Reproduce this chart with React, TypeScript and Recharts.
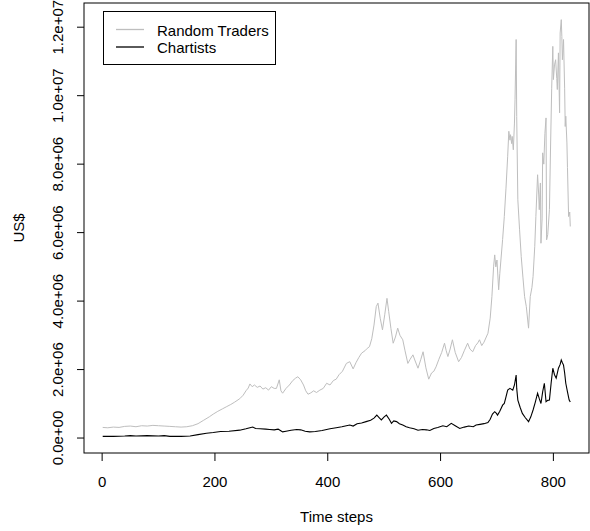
import { LineChart, Line, XAxis, YAxis } from 'recharts';

// values, in millions of US$
const traderSteps = [
  1, 10, 20, 30, 40, 50, 60, 70, 80, 90, 100, 110, 120, 130, 140, 150, 160, 170, 180, 190,
  197, 205, 213, 221, 228, 235, 244, 250, 255, 259, 262, 266, 270, 275, 280, 285, 290, 295, 300, 305,
  309, 314, 317, 320, 326, 332, 338, 343, 347, 352, 357, 361, 365, 370, 375, 380, 386, 392, 398, 404,
  410, 415, 420, 426, 433, 439, 445, 450, 455, 460, 466, 470, 474, 478, 482, 486, 489, 493, 497, 501,
  505, 508, 512, 516, 520, 524, 528, 533, 537, 542, 546, 551, 555, 560, 565, 569, 574, 579, 584, 588,
  592, 597, 602, 607, 610, 613, 617, 621, 626, 632, 637, 642, 648, 652, 657, 662, 666, 669, 673, 677,
  681, 684, 688, 691, 694, 696, 698, 700, 703, 705, 707, 710, 713, 716, 719, 721, 723, 724, 726, 727,
  729, 731, 732, 734, 735, 737, 740, 743, 746, 749, 752, 756, 759, 762, 764, 767, 769, 772, 774, 775,
  777, 778, 780, 781, 783, 785, 787, 788, 790, 793, 795, 797, 799, 800, 802, 804, 806, 807, 809, 811,
  812, 814, 815, 816, 818, 820, 821, 822, 824, 825, 827, 829, 830,
];
const traderValues = [
  0.31, 0.30, 0.32, 0.31, 0.34, 0.35, 0.33, 0.36, 0.35, 0.37, 0.36, 0.35, 0.34, 0.33, 0.32, 0.33, 0.36, 0.42, 0.52, 0.62,
  0.70, 0.78, 0.85, 0.92, 0.98, 1.05, 1.15, 1.25, 1.38, 1.46, 1.58, 1.50, 1.55, 1.48, 1.52, 1.43, 1.47, 1.40, 1.50, 1.45,
  1.45, 1.70, 1.38, 1.31, 1.45, 1.55, 1.68, 1.75, 1.79, 1.70, 1.55, 1.38, 1.28, 1.32, 1.38, 1.33, 1.40, 1.45, 1.60, 1.55,
  1.68, 1.72, 1.85, 1.95, 2.18, 2.23, 2.02, 2.20, 2.35, 2.48, 2.55, 2.62, 2.67, 2.90, 3.30, 3.84, 3.94, 3.50, 3.16, 3.60,
  4.08, 3.70, 3.20, 2.77, 2.95, 3.21, 3.00, 2.87, 2.55, 2.18, 2.30, 2.43, 2.25, 2.04, 2.30, 2.52, 2.05, 1.72, 1.90, 1.95,
  2.08, 2.30, 2.50, 2.77, 2.55, 2.38, 2.60, 2.87, 2.50, 2.23, 2.35, 2.55, 2.77, 2.60, 2.52, 2.70, 2.78, 2.87, 2.70, 2.80,
  2.95, 3.06, 3.50, 4.13, 5.00, 5.35, 5.00, 5.20, 4.33, 4.80, 5.20, 5.80, 6.47, 7.30, 8.23, 8.96, 8.70, 8.86, 8.60, 8.81,
  8.42, 9.20, 9.88, 11.64, 9.39, 6.96, 6.10, 5.30, 4.70, 4.13, 3.84, 3.21, 4.13, 4.40, 4.72, 5.60, 6.47, 7.69, 7.10, 6.67,
  7.45, 5.69, 6.40, 8.33, 8.00, 8.90, 9.35, 5.79, 5.94, 6.67, 8.50, 10.20, 11.44, 10.47, 10.90, 11.05, 10.50, 10.18, 11.25, 9.50,
  11.83, 12.22, 11.73, 11.05, 11.64, 10.20, 9.10, 9.40, 8.62, 7.90, 6.47, 6.60, 6.18,
];

const chartistSteps = [
  1, 20, 40, 50, 60, 80, 100, 110, 120, 140, 156, 170, 185, 197, 210, 225, 244, 255, 262, 267,
  272, 280, 290, 297, 305, 312, 316, 320, 326, 335, 345, 352, 360, 368, 378, 390, 404, 415, 425, 433,
  439, 445, 452, 460, 468, 476, 482, 487, 491, 495, 500, 504, 509, 513, 517, 522, 527, 533, 539, 545,
  553, 560, 568, 575, 581, 588, 595, 604, 611, 619, 626, 634, 642, 650, 658, 663, 670, 677, 684, 688,
  692, 696, 699, 701, 705, 710, 713, 716, 719, 723, 728, 731, 734, 735, 737, 741, 745, 750, 756, 760,
  764, 768, 772, 775, 778, 781, 784, 787, 790, 793, 796, 799, 802, 805, 809, 812, 814, 816, 818, 820,
  822, 825, 828, 830,
];
const chartistValues = [
  0.05, 0.05, 0.06, 0.07, 0.06, 0.07, 0.06, 0.07, 0.05, 0.05, 0.06, 0.10, 0.14, 0.16, 0.19, 0.20, 0.23, 0.27, 0.30, 0.32,
  0.28, 0.27, 0.26, 0.25, 0.24, 0.26, 0.22, 0.18, 0.20, 0.23, 0.25, 0.24, 0.20, 0.18, 0.19, 0.22, 0.27, 0.30, 0.33, 0.36,
  0.38, 0.35, 0.42, 0.44, 0.48, 0.52, 0.58, 0.67, 0.60, 0.53, 0.62, 0.67, 0.55, 0.43, 0.50, 0.48, 0.42, 0.38, 0.33, 0.30,
  0.27, 0.23, 0.25, 0.24, 0.22, 0.28, 0.31, 0.36, 0.33, 0.43, 0.36, 0.28, 0.32, 0.35, 0.33, 0.38, 0.40, 0.42, 0.45, 0.55,
  0.70, 0.77, 0.72, 0.67, 0.78, 0.96, 1.01, 1.20, 1.40, 1.45, 1.40, 1.55, 1.84, 1.45, 1.11, 0.90, 0.72, 0.60, 0.48, 0.62,
  0.82, 1.05, 1.31, 1.15, 1.01, 1.35, 1.60, 1.06, 1.10, 1.11, 1.60, 2.04, 1.85, 1.75, 2.04, 2.15, 2.28, 2.20, 2.13, 1.90,
  1.60, 1.35, 1.11, 1.05,
];

const xTicks = [0, 200, 400, 600, 800];
const yTicks = [0, 2, 4, 6, 8, 10, 12];
const seriesNames = ['Random Traders', 'Chartists'];
const seriesColors = ['#bebebe', '#000000'];

const traderData = traderSteps.map((t, i) => ({ t, v: traderValues[i] }));
const chartistData = chartistSteps.map((t, i) => ({ t, v: chartistValues[i] }));

// R style 4% padding around the data range
const allSteps = [...traderSteps, ...chartistSteps];
const allValues = [...traderValues, ...chartistValues];
const xMin = Math.min(...allSteps), xMax = Math.max(...allSteps);
const yMin = Math.min(...allValues), yMax = Math.max(...allValues);
const xPad = (xMax - xMin) * 0.04;
const yPad = (yMax - yMin) * 0.04;
const xDomain = [xMin - xPad, xMax + xPad];
const yDomain = [yMin - yPad, yMax + yPad];

const W = 590, H = 531;
const plot = { left: 84, top: 3, right: 589, bottom: 453 };
const font = '"Liberation Sans", Arial, sans-serif';

function sci(m: number) {
  const v = m * 1e6;
  if (v === 0) return '0.0e+00';
  const e = Math.floor(Math.log10(v));
  const mant = (v / Math.pow(10, e)).toFixed(1);
  return `${mant}e+${String(e).padStart(2, '0')}`;
}

const YTick = (props: any) => {
  const { y, payload } = props;
  return (
    <text x={63.5} y={y} transform={`rotate(-90, 63.5, ${y})`} textAnchor="middle"
      fontSize={15} fontFamily={font} fill="#000">
      {sci(payload.value)}
    </text>
  );
};

const XTick = (props: any) => {
  const { x, payload } = props;
  return (
    <text x={x} y={487} textAnchor="middle" fontSize={15} fontFamily={font} fill="#000">
      {payload.value}
    </text>
  );
};

export default function App() {
  return (
    <div style={{ position: 'absolute', left: 0, top: 0, width: W, height: H, background: '#fff' }}>
      <LineChart width={W} height={H}
        margin={{ top: plot.top, right: W - plot.right, bottom: 0, left: 0 }}>
        <XAxis dataKey="t" type="number" domain={xDomain} ticks={xTicks} allowDataOverflow
          height={H - plot.bottom} axisLine={false} tickLine={{ stroke: '#000' }} tickSize={8} tick={<XTick />} />
        <YAxis dataKey="v" type="number" domain={yDomain} ticks={yTicks} allowDataOverflow
          width={plot.left} axisLine={false} tickLine={{ stroke: '#000' }} tickSize={7} tick={<YTick />} />
        <Line data={traderData} dataKey="v" name={seriesNames[0]} type="linear" stroke={seriesColors[0]}
          strokeWidth={1} dot={false} isAnimationActive={false} />
        <Line data={chartistData} dataKey="v" name={seriesNames[1]} type="linear" stroke={seriesColors[1]}
          strokeWidth={1.1} dot={false} isAnimationActive={false} />
      </LineChart>
      <svg width={W} height={H} style={{ position: 'absolute', left: 0, top: 0, pointerEvents: 'none' }}>
        {/* plot frame */}
        <rect x={plot.left} y={plot.top} width={plot.right - plot.left} height={plot.bottom - plot.top}
          fill="none" stroke="#000" strokeWidth={1} />
        {/* legend */}
        <g transform="translate(103, 11)">
          <rect x={0.5} y={0.5} width={172} height={53} fill="#fff" stroke="#000" />
          {seriesNames.map((name, i) => (
            <g key={name}>
              <line x1={13} x2={41} y1={18.5 + i * 17.5} y2={18.5 + i * 17.5} stroke={seriesColors[i]} strokeWidth={1.3} />
              <text x={54} y={24.5 + i * 17.5} fontSize={15} fontFamily={font} fill="#000">{name}</text>
            </g>
          ))}
        </g>
        <text x={(plot.left + plot.right) / 2} y={522} textAnchor="middle" fontSize={15} fontFamily={font} fill="#000">Time steps</text>
        <text x={24} y={228} transform="rotate(-90, 24, 228)" textAnchor="middle" fontSize={15} fontFamily={font} fill="#000">US$</text>
      </svg>
    </div>
  );
}
